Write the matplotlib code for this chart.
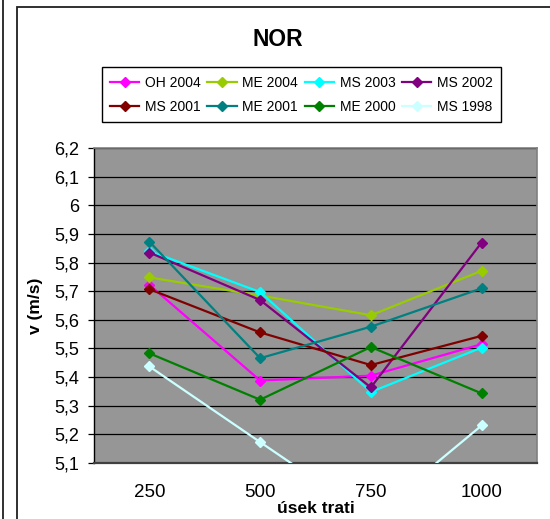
import matplotlib
matplotlib.use("Agg")
import matplotlib.pyplot as plt
from matplotlib.ticker import FuncFormatter
from matplotlib.patches import Rectangle
from matplotlib.lines import Line2D

plt.rcParams['font.family'] = ['Liberation Sans', 'DejaVu Sans']

categories = ["250", "500", "750", "1000"]
series_names = ["OH 2004", "ME 2004", "MS 2003", "MS 2002",
                "MS 2001", "ME 2001", "ME 2000", "MS 1998"]
oh_2004 = [5.722, 5.388, 5.405, 5.515]
me_2004 = [5.748, 5.685, 5.616, 5.771]
ms_2003 = [5.840, 5.697, 5.348, 5.503]
ms_2002 = [5.835, 5.669, 5.364, 5.870]
ms_2001 = [5.707, 5.556, 5.442, 5.544]
me_2001 = [5.873, 5.466, 5.576, 5.710]
me_2000 = [5.483, 5.321, 5.505, 5.343]
ms_1998 = [5.437, 5.173, 4.910, 5.231]
series_values = [oh_2004, me_2004, ms_2003, ms_2002, ms_2001, me_2001, me_2000, ms_1998]
colors = ["#FF00FF", "#99CC00", "#00FFFF", "#800080",
          "#800000", "#008080", "#008000", "#CCFFFF"]
y_ticks = [5.1, 5.2, 5.3, 5.4, 5.5, 5.6, 5.7, 5.8, 5.9, 6.0, 6.1, 6.2]

W, H = 550, 519
fig = plt.figure(figsize=(W / 100, H / 100), dpi=100)
fig.patch.set_facecolor("white")

# chart borders
fig.add_artist(Rectangle((16.5 / W, -0.1), 1.2, 1 - 7.3 / H + 0.1,
                         transform=fig.transFigure, fill=False,
                         edgecolor="#202020", linewidth=1.3))
fig.add_artist(Line2D([3.3 / W, 3.3 / W], [0, 1], transform=fig.transFigure,
                      color="#202020", linewidth=1.3))

ax = fig.add_axes([94 / W, 1 - 463 / H, 443 / W, 315 / H])
ax.set_facecolor("#969696")

handles = []
for name, vals, c in zip(series_names, series_values, colors):
    h, = ax.plot(categories, vals, color=c, linewidth=1.6, marker="D",
                 markersize=5.5, label=name, zorder=3)
    handles.append(h)

ax.set_xlim(-0.5, 3.5)
ax.set_ylim(5.1, 6.2)
ax.set_yticks(y_ticks)


def fmt(v, pos):
    s = f"{v:.1f}".rstrip("0").rstrip(".")
    return s.replace(".", ",")


ax.yaxis.set_major_formatter(FuncFormatter(fmt))
ax.set_axisbelow(True)
ax.yaxis.grid(True, color="black", linewidth=0.9)
ax.xaxis.grid(False)

ax.tick_params(axis="y", direction="out", length=4.5, width=0.9,
               color="black", labelsize=13, pad=6)
ax.tick_params(axis="x", length=0, labelsize=13.5, pad=15)

for side in ["top", "right"]:
    ax.spines[side].set_color("#808080")
    ax.spines[side].set_linewidth(1.2)
ax.spines["left"].set_color("black")
ax.spines["left"].set_linewidth(1.0)
ax.spines["bottom"].set_color("#404040")
ax.spines["bottom"].set_linewidth(1.6)

ax.set_xlabel("úsek trati", fontsize=12.5, fontweight="bold", va="center")
ax.xaxis.set_label_coords(0.5, -0.143)
ax.set_ylabel("v (m/s)", fontsize=12.5, fontweight="bold", va="center")
ax.yaxis.set_label_coords(-0.133, 0.5)

fig.text(278 / W, 1 - 40 / H, "NOR", fontsize=16.5, fontweight="bold",
         ha="center", va="center")

# row-wise legend ordering (matplotlib fills columns first)
order = [0, 4, 1, 5, 2, 6, 3, 7]
leg = ax.legend([handles[i] for i in order], [series_names[i] for i in order],
                loc="upper left", bbox_to_anchor=(101.7 / W, 1 - 67.3 / H),
                bbox_transform=fig.transFigure, ncol=4, fontsize=10,
                frameon=True, fancybox=False, framealpha=1,
                edgecolor="black", borderpad=0.6, borderaxespad=0,
                handlelength=2.1, handletextpad=0.4, columnspacing=0.5,
                labelspacing=0.72, numpoints=1)
leg.get_frame().set_linewidth(1.0)

fig.savefig("out.png", dpi=100, facecolor="white")
